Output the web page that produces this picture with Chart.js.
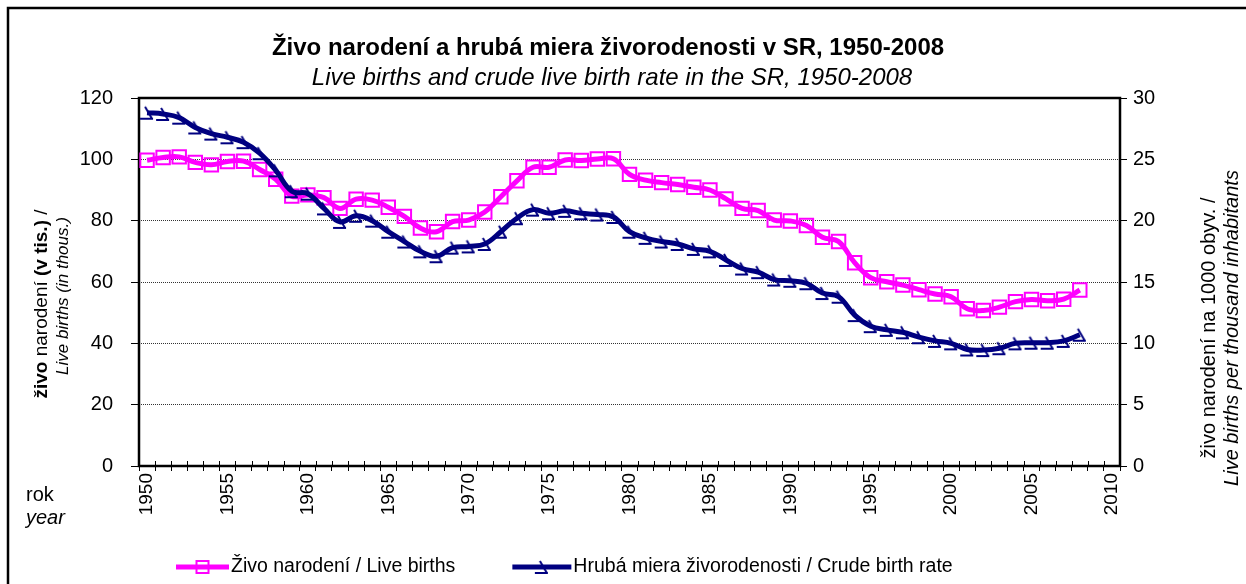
<!DOCTYPE html>
<html>
<head>
<meta charset="utf-8">
<script src="https://cdn.jsdelivr.net/npm/chart.js@4.4.0/dist/chart.umd.min.js"></script>
<style>
  body { margin: 0; background: #fff; }
  canvas { display: block; }
</style>
</head>
<body>
<canvas id="chart-births" width="1246" height="584"></canvas>
<script>
// categories (one per year, 2009 and 2010 stay empty)
var years = [
  1950, 1951, 1952, 1953, 1954, 1955, 1956, 1957, 1958, 1959,
  1960, 1961, 1962, 1963, 1964, 1965, 1966, 1967, 1968, 1969,
  1970, 1971, 1972, 1973, 1974, 1975, 1976, 1977, 1978, 1979,
  1980, 1981, 1982, 1983, 1984, 1985, 1986, 1987, 1988, 1989,
  1990, 1991, 1992, 1993, 1994, 1995, 1996, 1997, 1998, 1999,
  2000, 2001, 2002, 2003, 2004, 2005, 2006, 2007, 2008, 2009,
  2010
];

// live births, thousands (left axis)
var live_births = [
  99.7, 100.6, 100.8, 99.0, 98.2, 99.3, 99.4, 96.7, 93.5, 88.0,
  88.4, 87.5, 84.0, 87.0, 86.7, 84.4, 81.4, 77.6, 76.4, 79.7,
  80.2, 82.8, 87.8, 93.0, 97.4, 97.4, 99.8, 99.6, 100.1, 100.2,
  95.1, 93.2, 92.4, 91.8, 90.9, 90.0, 87.1, 84.0, 83.3, 80.2,
  79.9, 78.4, 74.6, 73.2, 66.3, 61.4, 60.1, 59.0, 57.5, 56.1,
  55.2, 51.3, 50.7, 51.8, 53.6, 54.3, 53.9, 54.4, 57.4
];

// crude birth rate per 1000 inhabitants (right axis)
var birth_rate = [
  28.8, 28.7, 28.4, 27.6, 27.1, 26.8, 26.4, 25.5, 24.1, 22.4,
  22.2, 21.0, 19.9, 20.4, 20.0, 19.1, 18.3, 17.5, 17.1, 17.8,
  17.9, 18.1, 19.1, 20.2, 20.9, 20.6, 20.8, 20.6, 20.5, 20.3,
  19.1, 18.6, 18.3, 18.1, 17.7, 17.5, 16.8, 16.1, 15.8, 15.2,
  15.1, 14.9, 14.1, 13.8, 12.3, 11.4, 11.1, 10.9, 10.5, 10.2,
  10.0, 9.5, 9.45, 9.6, 10.0, 10.05, 10.05, 10.2, 10.7
];

var left_ticks = [0, 20, 40, 60, 80, 100, 120];
var right_ticks = [0, 5, 10, 15, 20, 25, 30];
var year_ticks = [1950, 1955, 1960, 1965, 1970, 1975, 1980, 1985, 1990, 1995, 2000, 2005, 2010];

var PINK = '#FF00FF';
var NAVY = '#000080';
var FONT = '"Liberation Sans", Arial, sans-serif';

// Excel-like marker of the birth rate series
function make_rate_marker(){
  var c = document.createElement('canvas');
  c.width = 18;
  c.height = 18;
  var g = c.getContext('2d');
  g.strokeStyle = NAVY;
  g.lineWidth = 2;
  g.beginPath();
  g.moveTo(2, 15); g.lineTo(15, 15);
  g.moveTo(7, 3); g.lineTo(14, 15);
  g.stroke();
  return c;
};
var rate_marker = make_rate_marker();

function draw_segments(ctx, parts, cx, cy, angle){
  ctx.save();
  ctx.translate(cx, cy);
  ctx.rotate(angle);
  ctx.textBaseline = 'middle';
  ctx.textAlign = 'left';
  var total = 0;
  parts.forEach(function(p){ ctx.font = p.font; total += ctx.measureText(p.text).width; });
  var x = -total / 2;
  parts.forEach(function(p){
    ctx.font = p.font;
    ctx.fillText(p.text, x, 0);
    x += ctx.measureText(p.text).width;
  });
  ctx.restore();
};

var decor = {
  id: 'decor',
  beforeDraw: function(chart){
    var ctx = chart.ctx;
    ctx.save();
    ctx.fillStyle = '#fff';
    ctx.fillRect(0, 0, chart.width, chart.height);
    ctx.restore();
  },
  beforeDatasetsDraw: function(chart){
    var ctx = chart.ctx, a = chart.chartArea;
    ctx.save();
    // small inner part of the x ticks
    ctx.strokeStyle = '#000';
    ctx.lineWidth = 1;
    var step = (a.right - a.left) / years.length;
    for (var i = 1; i < years.length; i++) {
      var px = Math.round(a.left + i * step) + 0.5;
      ctx.beginPath();
      ctx.moveTo(px, a.bottom - 5);
      ctx.lineTo(px, a.bottom);
      ctx.stroke();
    }
    ctx.lineWidth = 2.5;
    ctx.strokeRect(a.left, a.top, a.right - a.left, a.bottom - a.top);
    ctx.restore();
  },
  afterDraw: function(chart){
    var ctx = chart.ctx;
    ctx.save();
    // outer frame (cut at right and bottom edge)
    ctx.strokeStyle = '#000';
    ctx.lineWidth = 2.5;
    ctx.beginPath();
    ctx.moveTo(8, 700);
    ctx.lineTo(8, 8);
    ctx.lineTo(1300, 8);
    ctx.stroke();

    ctx.fillStyle = '#000';
    ctx.textAlign = 'center';
    ctx.textBaseline = 'alphabetic';
    ctx.font = 'bold 24px ' + FONT;
    ctx.fillText('Živo narodení a hrubá miera živorodenosti v SR, 1950-2008', 608, 55);
    ctx.font = 'italic 24px ' + FONT;
    ctx.fillText('Live births and crude live birth rate in the SR, 1950-2008', 612, 85);

    // axis titles
    draw_segments(ctx, [
      {text: 'živo', font: 'bold 19px ' + FONT},
      {text: ' narodení ', font: '19px ' + FONT},
      {text: '(v tis.)', font: 'bold 19px ' + FONT},
      {text: ' /', font: '19px ' + FONT}
    ], 42, 304, -Math.PI / 2);
    draw_segments(ctx, [
      {text: 'Live births (in thous.)', font: 'italic 17px ' + FONT}
    ], 63, 296, -Math.PI / 2);
    draw_segments(ctx, [
      {text: 'živo narodení na 1000 obyv. /', font: '20px ' + FONT}
    ], 1209, 328, -Math.PI / 2);
    draw_segments(ctx, [
      {text: 'Live births per thousand inhabitants', font: 'italic 20px ' + FONT}
    ], 1232, 328, -Math.PI / 2);

    ctx.textAlign = 'left';
    ctx.font = '20px ' + FONT;
    ctx.fillText('rok', 26, 501);
    ctx.font = 'italic 20px ' + FONT;
    ctx.fillText('year', 26, 524);

    // legend: line sample with marker and label
    var ly = 567;
    var x = 176;
    chart.data.datasets.forEach(function(ds, i){
      var len = i == 0 ? 53 : 59;
      ctx.strokeStyle = ds.borderColor;
      ctx.lineWidth = 5;
      ctx.beginPath();
      ctx.moveTo(x, ly);
      ctx.lineTo(x + len, ly);
      ctx.stroke();
      var mx = x + len / 2;
      if (i == 0) {
        ctx.strokeStyle = PINK;
        ctx.lineWidth = 2;
        ctx.strokeRect(mx - 6, ly - 6, 12, 12);
      } else {
        ctx.drawImage(rate_marker, mx - 9, ly - 9);
      }
      ctx.font = '19.5px ' + FONT;
      ctx.fillStyle = '#000';
      ctx.textBaseline = 'middle';
      ctx.fillText(ds.label, x + len + 2, ly);
      x = x + len + 2 + ctx.measureText(ds.label).width + 57;
    });
    ctx.restore();
  }
};

var ctx = document.getElementById('chart-births').getContext('2d');

new Chart(ctx, {
  type: 'line',
  data: {
    labels: years,
    datasets: [{
        label: 'Živo narodení / Live births',
        data: live_births,
        yAxisID: 'y',
        borderColor: PINK,
        borderWidth: 5,
        tension: 0.4,
        pointStyle: 'rect',
        pointRadius: 9.5,
        pointBorderWidth: 2,
        pointBorderColor: PINK,
        pointBackgroundColor: 'rgba(0,0,0,0)',
        order: 2
      },
      {
        label: 'Hrubá miera živorodenosti / Crude birth rate',
        data: birth_rate,
        yAxisID: 'y1',
        borderColor: NAVY,
        borderWidth: 5,
        tension: 0.4,
        pointStyle: rate_marker,
        pointRadius: 6,
        order: 1
      }
    ]
  },
  plugins: [decor],
  options: {
    responsive: false,
    animation: false,
    layout: { padding: { top: 98, left: 0, right: 0, bottom: 0 } },
    plugins: {
      legend: { display: false },
      tooltip: { enabled: false }
    },
    scales: {
      x: {
        type: 'category',
        offset: true,
        grid: {
          offset: true,
          drawOnChartArea: false,
          drawTicks: true,
          tickLength: 5,
          tickColor: '#000'
        },
        border: { display: false },
        ticks: {
          autoSkip: false,
          minRotation: 90,
          maxRotation: 90,
          padding: 2,
          color: '#000',
          font: { size: 19, family: FONT },
          callback: function(value, index){
            var yr = years[index];
            return year_ticks.indexOf(yr) >= 0 ? String(yr) : '';
          }
        },
        afterFit: function(scale){ scale.height = 584 - 466; }
      },
      y: {
        position: 'left',
        min: 0,
        max: 120,
        afterBuildTicks: function(scale){
          scale.ticks = left_ticks.map(function(v){ return {value: v}; });
        },
        grid: {
          color: '#333',
          lineWidth: 1,
          drawTicks: true,
          tickLength: 8,
          tickColor: '#000'
        },
        border: { display: false, dash: [1, 1] },
        ticks: {
          padding: 18,
          color: '#000',
          font: { size: 20, family: FONT }
        },
        afterFit: function(scale){ scale.width = 139; }
      },
      y1: {
        position: 'right',
        min: 0,
        max: 30,
        afterBuildTicks: function(scale){
          scale.ticks = right_ticks.map(function(v){ return {value: v}; });
        },
        grid: {
          drawOnChartArea: false,
          drawTicks: true,
          tickLength: 7,
          tickColor: '#000'
        },
        border: { display: false },
        ticks: {
          padding: 6,
          color: '#000',
          font: { size: 20, family: FONT }
        },
        afterFit: function(scale){ scale.width = 1246 - 1120; }
      }
    }
  }
});
</script>
</body>
</html>
